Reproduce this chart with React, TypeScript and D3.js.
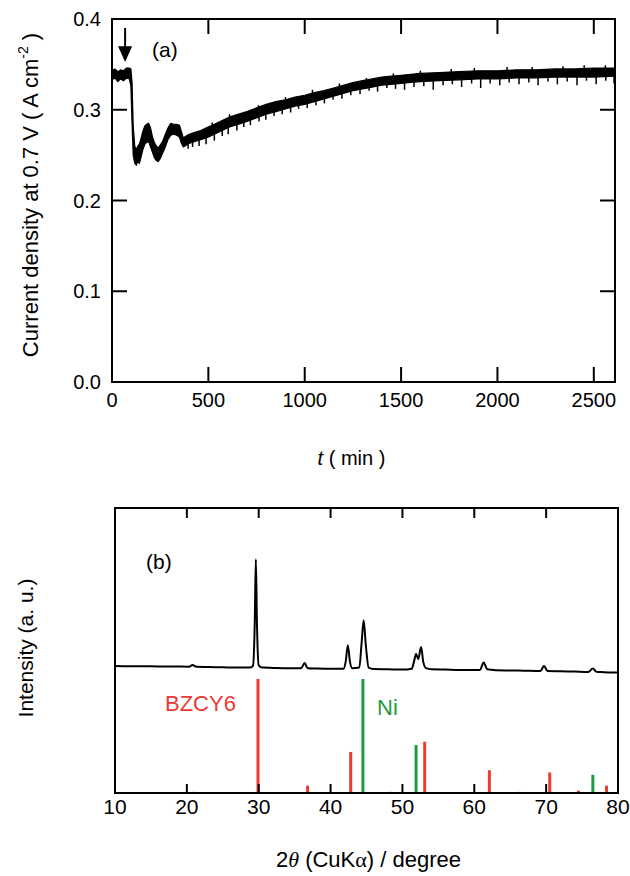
import React from 'react';
import * as d3 from 'd3';

const width = 630;
const height = 876;
const font = '"Liberation Sans", Arial, sans-serif';
const red = '#ec3a34';
const green = '#1f9a40';

// panel (a): current density vs time, noisy band read as low / high edges
const timeMin = [0, 15, 30, 45, 60, 75, 90, 98, 104, 110, 118, 126, 134, 142, 150, 160, 170, 180, 190, 200, 210, 220, 230, 240, 250, 260, 275, 290, 305, 320, 335, 350, 360, 370, 385, 400, 430, 460, 490, 520, 550, 580, 610, 640, 670, 700, 750, 800, 850, 900, 950, 1000, 1050, 1100, 1150, 1200, 1250, 1300, 1350, 1400, 1450, 1500, 1550, 1600, 1700, 1800, 1900, 2000, 2100, 2200, 2300, 2400, 2500, 2610];
const currentLow = [0.333, 0.335, 0.331, 0.334, 0.332, 0.335, 0.334, 0.326, 0.285, 0.250, 0.241, 0.239, 0.243, 0.241, 0.247, 0.256, 0.262, 0.264, 0.265, 0.259, 0.253, 0.247, 0.244, 0.243, 0.246, 0.251, 0.258, 0.267, 0.272, 0.273, 0.272, 0.270, 0.263, 0.259, 0.261, 0.263, 0.265, 0.267, 0.269, 0.272, 0.275, 0.278, 0.281, 0.283, 0.285, 0.287, 0.291, 0.295, 0.298, 0.301, 0.304, 0.306, 0.309, 0.312, 0.315, 0.318, 0.321, 0.323, 0.325, 0.327, 0.328, 0.329, 0.330, 0.331, 0.332, 0.333, 0.334, 0.334, 0.335, 0.335, 0.336, 0.336, 0.336, 0.337];
const currentHigh = [0.343, 0.345, 0.342, 0.344, 0.343, 0.346, 0.346, 0.345, 0.330, 0.283, 0.260, 0.256, 0.260, 0.262, 0.268, 0.276, 0.282, 0.284, 0.285, 0.280, 0.270, 0.264, 0.260, 0.258, 0.261, 0.264, 0.272, 0.280, 0.285, 0.284, 0.284, 0.283, 0.276, 0.269, 0.271, 0.273, 0.275, 0.277, 0.280, 0.283, 0.286, 0.289, 0.292, 0.294, 0.296, 0.298, 0.302, 0.306, 0.309, 0.311, 0.314, 0.316, 0.319, 0.321, 0.324, 0.327, 0.330, 0.332, 0.334, 0.336, 0.337, 0.338, 0.339, 0.340, 0.341, 0.342, 0.343, 0.343, 0.344, 0.344, 0.345, 0.345, 0.346, 0.346];
const spikesDown = [[395, 0.257], [418, 0.259], [452, 0.26], [488, 0.262], [531, 0.266], [572, 0.271], [603, 0.273], [648, 0.277], [684, 0.281], [718, 0.283], [763, 0.287], [798, 0.289], [841, 0.293], [883, 0.295], [927, 0.297], [968, 0.301], [1013, 0.302], [1058, 0.305], [1102, 0.307], [1147, 0.311], [1193, 0.312], [1239, 0.316], [1287, 0.317], [1334, 0.321], [1378, 0.32], [1426, 0.324], [1471, 0.323], [1518, 0.322], [1567, 0.325], [1618, 0.326], [1667, 0.322], [1718, 0.327], [1766, 0.328], [1814, 0.325], [1866, 0.329], [1913, 0.324], [1962, 0.329], [2012, 0.327], [2061, 0.33], [2112, 0.328], [2163, 0.33], [2211, 0.327], [2262, 0.331], [2311, 0.328], [2362, 0.331], [2413, 0.327], [2462, 0.332], [2512, 0.328], [2562, 0.332], [2605, 0.329]];
const spikesUp = [[520, 0.286], [610, 0.295], [760, 0.305], [900, 0.314], [1040, 0.322], [1180, 0.329], [1320, 0.335], [1460, 0.34], [1600, 0.343], [1760, 0.345], [1880, 0.346], [2050, 0.347], [2180, 0.347], [2340, 0.348], [2450, 0.349], [2560, 0.349]];
const timeTicks = [0, 500, 1000, 1500, 2000, 2500];
const currentTicks = [0, 0.1, 0.2, 0.3, 0.4];
const arrowTime = 68;

// panel (b): XRD pattern and reference sticks
const twoTheta = [10, 12, 14, 16, 18, 20.3, 20.8, 21.3, 23, 25, 27, 28.8, 29.2, 29.45, 29.6, 29.75, 30.0, 30.5, 32, 34, 35.9, 36.4, 36.8, 38, 40, 41.8, 42.1, 42.4, 42.7, 43.0, 44.0, 44.3, 44.6, 44.9, 45.3, 46, 48, 50, 51.3, 51.6, 51.9, 52.2, 52.6, 52.9, 53.3, 54, 56, 58, 60.8, 61.3, 61.8, 63, 65, 67, 69.2, 69.7, 70.2, 72, 74, 75.9, 76.5, 77.0, 78, 80];
const intensity = [44.6, 44.5, 44.5, 44.4, 44.4, 44.3, 44.9, 44.3, 44.2, 44.1, 44.0, 44.0, 44.6, 60, 82, 60, 44.8, 44.0, 43.9, 43.8, 43.8, 45.6, 43.8, 43.7, 43.6, 43.6, 46, 51.8, 46, 43.8, 44.0, 52, 60.6, 52, 44.0, 43.5, 43.4, 43.3, 43.6, 46, 48.8, 47, 51.2, 46, 43.8, 43.4, 43.3, 43.2, 43.2, 45.8, 43.4, 43.1, 43.0, 42.9, 42.8, 44.6, 42.8, 42.7, 42.6, 42.5, 43.7, 42.5, 42.4, 42.3];
const bzcyAngle = [21.0, 29.9, 36.8, 42.8, 48.3, 53.1, 62.1, 66.3, 70.5, 74.5, 78.4];
const bzcyRel = [1, 100, 6.4, 36, 1, 45, 20, 1, 18, 2, 6.4];
const niAngle = [44.5, 51.9, 76.5];
const niRel = [100, 42, 16];
const angleTicksBottom = [10, 20, 30, 40, 50, 60, 70, 80];
const angleTicksTop = [20, 30, 40, 50, 60, 70];

const xA = d3.scaleLinear().domain([0, 2610]).range([112, 615]);
const yA = d3.scaleLinear().domain([0, 0.4]).range([382, 19]);
const xB = d3.scaleLinear().domain([10, 80]).range([115, 618]);
const yB = d3.scaleLinear().domain([0, 100]).range([793, 508]);
const yStick = d3.scaleLinear().domain([0, 100]).range([793, 679]);

export default function App() {
  const band = d3.area<number>()
    .x((d, i) => xA(timeMin[i]))
    .y0((d, i) => yA(currentLow[i]))
    .y1((d, i) => yA(currentHigh[i]));
  const bandPath = band(timeMin) || '';

  const loAt = d3.scaleLinear().domain(timeMin).range(currentLow);
  const hiAt = d3.scaleLinear().domain(timeMin).range(currentHigh);
  const mid = (t: number) => (loAt(t) + hiAt(t)) / 2;

  const xrdLine = d3.line<number>()
    .x((d) => xB(d))
    .y((d, i) => yB(intensity[i]))
    .curve(d3.curveMonotoneX);
  const xrdPath = xrdLine(twoTheta) || '';

  const [x0, x1] = xA.range();
  const [ya0, ya1] = yA.range();
  const [bx0, bx1] = xB.range();
  const [yb0, yb1] = yB.range();

  return (
    <svg width={width} height={height} style={{ position: 'absolute', left: 0, top: 0, background: '#fff' }} fontFamily={font}>
      {/* ---- panel (a) ---- */}
      <path d={bandPath} fill="#000" stroke="#000" strokeWidth={1.2} />
      {spikesDown.map(([t, v], i) => (
        <line key={'sd' + i} x1={xA(t)} x2={xA(t)} y1={yA(mid(t))} y2={yA(v)} stroke="#000" strokeWidth={1.5} />
      ))}
      {spikesUp.map(([t, v], i) => (
        <line key={'su' + i} x1={xA(t)} x2={xA(t)} y1={yA(mid(t))} y2={yA(v)} stroke="#000" strokeWidth={1.5} />
      ))}
      <rect x={x0} y={ya1} width={x1 - x0} height={ya0 - ya1} fill="none" stroke="#000" strokeWidth={2} />
      {timeTicks.map((t) => (
        <g key={'ta' + t}>
          <line x1={xA(t)} x2={xA(t)} y1={ya0} y2={ya0 - 15} stroke="#000" strokeWidth={2} />
          <line x1={xA(t)} x2={xA(t)} y1={ya1} y2={ya1 + 15} stroke="#000" strokeWidth={2} />
          <text x={xA(t)} y={ya0 + 25} fontSize={20} textAnchor="middle">{t}</text>
        </g>
      ))}
      {currentTicks.map((v) => (
        <g key={'ca' + v}>
          <line x1={x0} x2={x0 + 15} y1={yA(v)} y2={yA(v)} stroke="#000" strokeWidth={2} />
          <line x1={x1} x2={x1 - 15} y1={yA(v)} y2={yA(v)} stroke="#000" strokeWidth={2} />
          <text x={x0 - 11} y={yA(v) + 7} fontSize={20} textAnchor="end">{v.toFixed(1)}</text>
        </g>
      ))}
      <text x={(x0 + x1) / 2 - 12} y={465} fontSize={20} textAnchor="middle">
        <tspan fontStyle="italic">t</tspan> ( min )
      </text>
      <text transform={`translate(38, 195) rotate(-90)`} fontSize={22} textAnchor="middle">
        Current density at 0.7 V ( A cm<tspan dy={-10} fontSize={14}>-2</tspan><tspan dy={10}> )</tspan>
      </text>
      {/* arrow marking the change */}
      <line x1={xA(arrowTime)} x2={xA(arrowTime)} y1={yA(0.39)} y2={yA(0.365)} stroke="#000" strokeWidth={2} />
      <path d={`M${xA(arrowTime) - 7},${yA(0.37)} L${xA(arrowTime) + 7},${yA(0.37)} L${xA(arrowTime)},${yA(0.3525)} Z`} fill="#000" />
      <text x={152} y={57} fontSize={21}>(a)</text>

      {/* ---- panel (b) ---- */}
      {bzcyAngle.map((a, i) => (
        <line key={'bz' + i} x1={xB(a)} x2={xB(a)} y1={yStick(0)} y2={yStick(bzcyRel[i])} stroke={red} strokeWidth={3} />
      ))}
      {niAngle.map((a, i) => (
        <line key={'ni' + i} x1={xB(a)} x2={xB(a)} y1={yStick(0)} y2={yStick(niRel[i])} stroke={green} strokeWidth={3} />
      ))}
      <path d={xrdPath} fill="none" stroke="#000" strokeWidth={2} />
      <rect x={bx0} y={yb1} width={bx1 - bx0} height={yb0 - yb1} fill="none" stroke="#000" strokeWidth={2} />
      {angleTicksBottom.map((a) => (
        <g key={'ab' + a}>
          <line x1={xB(a)} x2={xB(a)} y1={yb0} y2={yb0 - 9} stroke="#000" strokeWidth={2} />
          <text x={xB(a)} y={yb0 + 21} fontSize={21} textAnchor="middle">{a}</text>
        </g>
      ))}
      {angleTicksTop.map((a) => (
        <line key={'at' + a} x1={xB(a)} x2={xB(a)} y1={yb1} y2={yb1 + 10} stroke="#000" strokeWidth={2} />
      ))}
      <text x={165} y={711} fontSize={22} fill={red}>BZCY6</text>
      <text x={377} y={715} fontSize={22} fill={green}>Ni</text>
      <text x={146} y={569} fontSize={21}>(b)</text>
      <text x={(bx0 + bx1) / 2 + 2} y={867} fontSize={22} textAnchor="middle">
        2<tspan fontFamily='"Liberation Serif", serif' fontStyle="italic">θ</tspan> (CuK<tspan fontFamily='"Liberation Serif", serif'>α</tspan>) / degree
      </text>
      <text transform={`translate(33, 648) rotate(-90)`} fontSize={21} textAnchor="middle">
        Intensity (a. u.)
      </text>
    </svg>
  );
}
